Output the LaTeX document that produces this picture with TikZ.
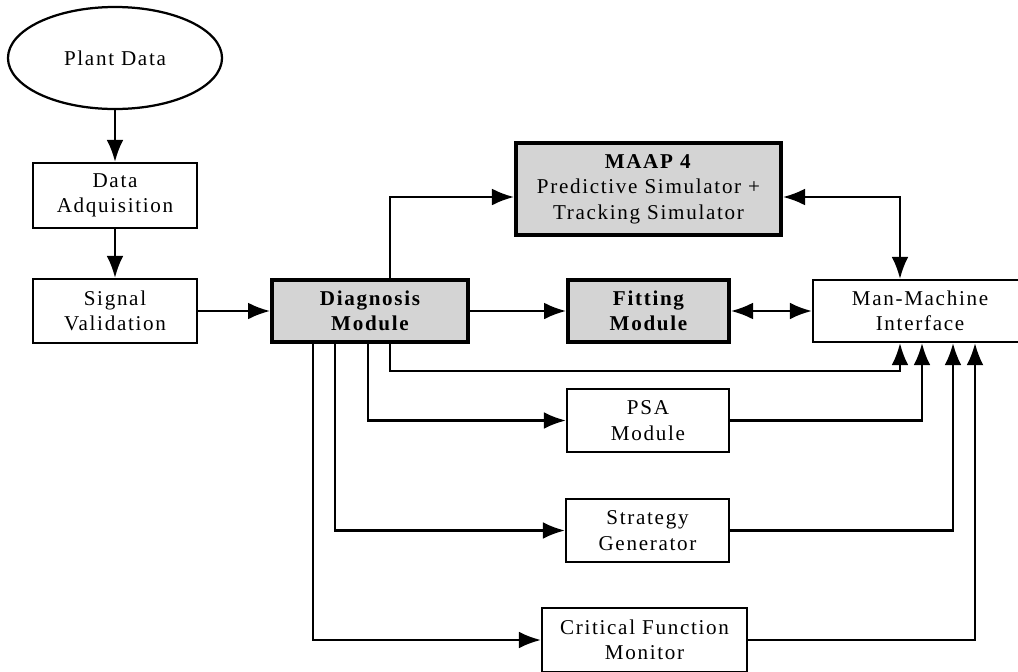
\documentclass[tikz,border=0pt]{standalone}
\usepackage{fontspec}
\setmainfont{Liberation Serif}[LetterSpace=8]
\usepackage{tikz}
\usetikzlibrary{arrows.meta, positioning, shapes.geometric}

\begin{document}
\begin{tikzpicture}[x=0.025cm, y=-0.025cm,
				>={Latex[length=5.5mm, width=4.2mm]},
				line width=1.6pt,
				font=\fontsize{15}{18}\selectfont,
				box/.style={draw, rectangle, align=center, inner sep=0pt},
				module/.style={box, line width=2.8pt, fill=black!17},
				heavy/.style={font=\fontsize{15}{18}\selectfont\bfseries}]
				\useasboundingbox[fill=white] (0,0) rectangle (1018,671);
				\clip (0,0) rectangle (1018,671);
				\node at (115,58) (plant) [draw, ellipse, inner sep=0pt, minimum width=5.35cm, minimum height=2.55cm] {Plant Data};
				\node at (115,195.5) (acq) [box, minimum width=4.1cm, minimum height=1.625cm] {Data\\ Adquisition};
				\node at (115,311) (valid) [box, minimum width=4.1cm, minimum height=1.6cm] {Signal\\ Validation};
				\node at (370,311) (diag) [module, heavy, minimum width=4.9cm, minimum height=1.55cm] {Diagnosis\\ Module};
				\node at (648.5,189) (maap) [module, minimum width=6.625cm, minimum height=2.3cm] {\textbf{MAAP 4}\\ Predictive Simulator +\\ Tracking Simulator};
				\node at (648.5,311) (fit) [module, heavy, minimum width=4.025cm, minimum height=1.55cm] {Fitting\\ Module};
				\node at (920,311) (mmi) [box, minimum width=5.35cm, minimum height=1.55cm] {Man-Machine\\ Interface};
				\node at (648,420.5) (psa) [box, minimum width=4.05cm, minimum height=1.575cm] {PSA\\ Module};
				\node at (647.5,530.5) (strat) [box, minimum width=4.075cm, minimum height=1.575cm] {Strategy\\ Generator};
				\node at (644.5,640) (cfm) [box, minimum width=5.125cm, minimum height=1.6cm] {Critical Function\\ Monitor};
				\draw[->] (plant) -- (acq);
				\draw[->] (acq) -- (valid);
				\draw[->] (valid) -- (diag);
				\draw[->] (diag) -- (fit);
				\draw[<->] (fit) -- (mmi);
				\draw[->] ([xshift=0.5cm]diag.north) |- ([yshift=-0.2cm]maap.west);
				\draw[<->] ([yshift=-0.2cm]maap.east) -| ([xshift=-0.5cm]mmi.north);
				\draw[->] ([xshift=0.5cm]diag.south) -- ++(0,27) -| ([xshift=-0.5cm]mmi.south);
				\draw[->] ([xshift=-0.05cm]diag.south) |- (psa);
				\draw[->] ([xshift=-0.875cm]diag.south) |- (strat);
				\draw[->] ([xshift=-1.425cm]diag.south) |- (cfm);
				\draw[->] (psa) -| ([xshift=0.05cm]mmi.south);
				\draw[->] (strat) -| ([xshift=0.825cm]mmi.south);
				\draw[->] (cfm) -| ([xshift=1.375cm]mmi.south);
			\end{tikzpicture}
\end{document}
